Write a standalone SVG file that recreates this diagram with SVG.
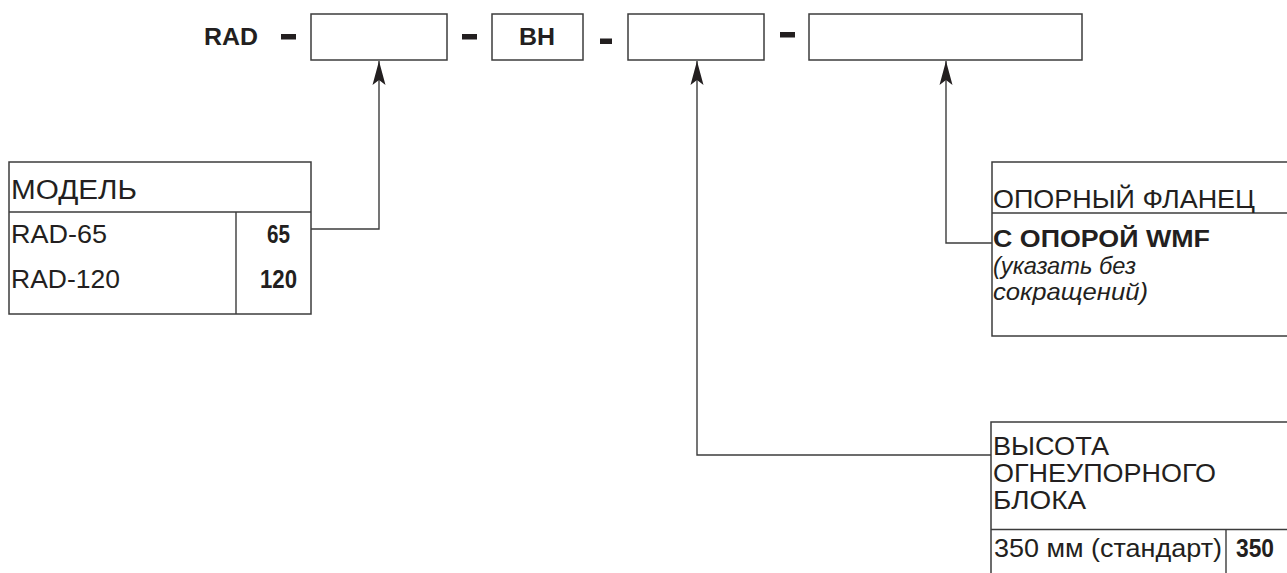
<svg xmlns="http://www.w3.org/2000/svg" width="1287" height="573" viewBox="0 0 1287 573">
<style>
.box{fill:#fff;stroke:#3c3c3c;stroke-width:1.5}
.ln{fill:none;stroke:#3c3c3c;stroke-width:1.4}
.dash{fill:#231f20}
text{font-family:"Liberation Sans",Arial,sans-serif;fill:#231f20}
.b{font-weight:bold}
.i{font-style:italic}
</style>
<defs>
<marker id="arr" viewBox="-25 -7 26 14" refX="0" refY="0" markerWidth="26" markerHeight="14" markerUnits="userSpaceOnUse" orient="auto">
<path d="M0,0 L-24,-6.5 L-19,0 L-24,6.5 Z" fill="#231f20"/>
</marker>
</defs>
<rect width="1287" height="573" fill="#fff"/>
<g id="code">
<text class="b" x="204" y="45" font-size="24.5" textLength="54" lengthAdjust="spacingAndGlyphs">RAD</text>
<rect class="dash" x="281" y="34" width="15" height="5.5"/>
<rect class="dash" x="462" y="34" width="15" height="5.5"/>
<rect class="dash" x="600" y="38.5" width="12" height="5.5"/>
<rect class="dash" x="780" y="32" width="15" height="5.5"/>
</g>
<g id="slot-model"><rect class="box" x="311" y="14" width="136" height="46"/></g>
<g id="slot-bh"><rect class="box" x="492" y="14" width="91" height="46"/>
<text class="b" x="519" y="45" font-size="24.5" textLength="36" lengthAdjust="spacingAndGlyphs">BH</text></g>
<g id="slot-height"><rect class="box" x="628" y="14" width="136" height="46"/></g>
<g id="slot-flange"><rect class="box" x="809" y="14" width="273" height="46"/></g>
<g id="connectors">
<path class="ln" d="M311,229 H379 V61" marker-end="url(#arr)"/>
<path class="ln" d="M991,455 H697 V61" marker-end="url(#arr)"/>
<path class="ln" d="M992,243 H946 V61" marker-end="url(#arr)"/>
</g>
<g id="table-model">
<rect class="box" x="9" y="162" width="302" height="152"/>
<path class="ln" d="M9,212 H311 M236,212 V314"/>
<text x="11" y="199" font-size="27" textLength="126" lengthAdjust="spacingAndGlyphs">МОДЕЛЬ</text>
<text x="11" y="243" font-size="25" textLength="96" lengthAdjust="spacingAndGlyphs">RAD-65</text>
<text x="11" y="288" font-size="25" textLength="109" lengthAdjust="spacingAndGlyphs">RAD-120</text>
<text class="b" x="267" y="243" font-size="25" textLength="23" lengthAdjust="spacingAndGlyphs">65</text>
<text class="b" x="260" y="288" font-size="25" textLength="37" lengthAdjust="spacingAndGlyphs">120</text>
</g>
<g id="table-flange">
<rect class="box" x="992" y="162" width="310" height="174"/>
<path class="ln" d="M992,213 H1300"/>
<text x="993" y="208" font-size="26.5" textLength="262" lengthAdjust="spacingAndGlyphs">ОПОРНЫЙ ФЛАНЕЦ</text>
<text class="b" x="993" y="247" font-size="24" textLength="217" lengthAdjust="spacingAndGlyphs">С ОПОРОЙ WMF</text>
<text class="i" x="993" y="274" font-size="24" textLength="143" lengthAdjust="spacingAndGlyphs">(указать без</text>
<text class="i" x="993" y="300" font-size="24" textLength="155" lengthAdjust="spacingAndGlyphs">сокращений)</text>
</g>
<g id="table-height">
<rect class="box" x="991" y="422" width="310" height="170"/>
<path class="ln" d="M991,529.5 H1300 M1226,529.5 V580"/>
<text x="993" y="455" font-size="25" textLength="116" lengthAdjust="spacingAndGlyphs">ВЫСОТА</text>
<text x="993" y="482" font-size="25" textLength="223" lengthAdjust="spacingAndGlyphs">ОГНЕУПОРНОГО</text>
<text x="993" y="509" font-size="25" textLength="93" lengthAdjust="spacingAndGlyphs">БЛОКА</text>
<text x="994" y="557" font-size="25" textLength="228" lengthAdjust="spacingAndGlyphs">350 мм (стандарт)</text>
<text class="b" x="1236" y="557" font-size="25" textLength="38" lengthAdjust="spacingAndGlyphs">350</text>
</g>
</svg>
